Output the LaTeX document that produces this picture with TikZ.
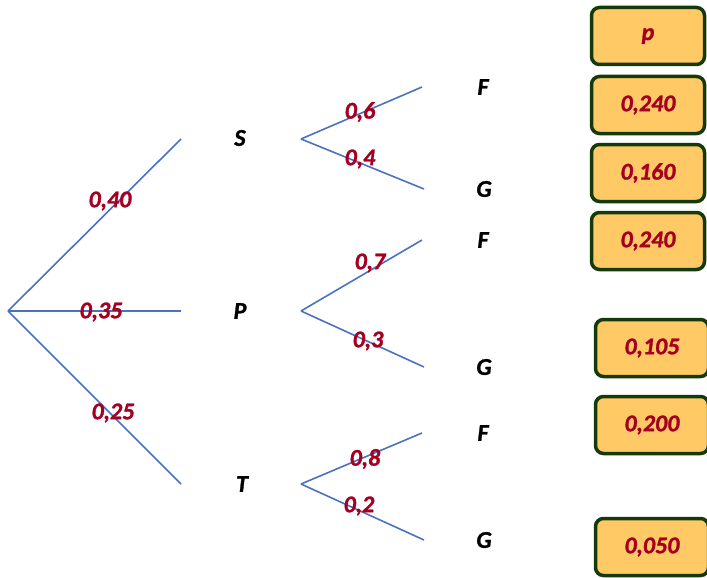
\documentclass[tikz,border=0pt]{standalone}
\usepackage{fontspec}
\setmainfont{Carlito}[BoldItalicFeatures={FakeBold=1.2}]
\usepackage{tikz}
\definecolor{branchblue}{HTML}{4A72C0}
\definecolor{probred}{HTML}{A50021}
\definecolor{boxgreen}{HTML}{143A0A}
\definecolor{boxfill}{HTML}{FFC966}
\tikzset{branch/.style={branchblue, line width=1.6pt},
%probability written on a branch
prob/.style={text=probred, font=\fontsize{24}{28}\selectfont\bfseries\itshape, inner sep=0pt},
event/.style={text=black, font=\fontsize{24}{28}\selectfont\bfseries\itshape, inner sep=0pt},
result/.style={prob, draw=boxgreen, fill=boxfill, line width=3.5pt, rounded corners=8pt,
  minimum width=113pt, minimum height=57pt}}

\begin{document}
\begin{tikzpicture}[x=1pt,y=-1pt]
\useasboundingbox (0,0) rectangle (707,578);
% first level
\coordinate (root) at (8,311);
\coordinate (endS) at (181,139);
\coordinate (endP) at (181,311);
\coordinate (endT) at (181,484);
\draw[branch] (root) -- (endS);
\draw[branch] (root) -- (endP);
\draw[branch] (root) -- (endT);
\node[event] (S) at (240,138) {S};
\node[event] (P) at (240,311) {P};
\node[event] (T) at (242,484) {T};
\node[prob] (pS) at (110,201) {0,40};
\node[prob] (pP) at (101,312) {0,35};
\node[prob] (pT) at (113,413) {0,25};

% second level
\foreach \name/\y/\yf/\yg in {S/139/87/189, P/311/240/367, T/484/433/540}{
  \coordinate (start\name) at (301,\y);
  \coordinate (end\name F) at (422,\yf);
  \coordinate (end\name G) at (424,\yg);
  \draw[branch] (start\name) -- (end\name F);
  \draw[branch] (start\name) -- (end\name G);
  \node[event] (F\name) at (483,\yf) {F};
  \node[event] (G\name) at (484,\yg) {G};
}
\node[prob] (pSF) at (360,112) {0,6};
\node[prob] (pSG) at (360,159) {0,4};
\node[prob] (pPF) at (370,263) {0,7};
\node[prob] (pPG) at (368,341) {0,3};
\node[prob] (pTF) at (365,459) {0,8};
\node[prob] (pTG) at (359,506) {0,2};

%results
\node[result] (head) at (648,36) {p};
\node[result] (rSF) at (648,105) {0,240};
\node[result] (rSG) at (648,173) {0,160};
\node[result] (rPF) at (648,241) {0,240};
\node[result] (rPG) at (652,348) {0,105};
\node[result] (rTF) at (652,425) {0,200};
\node[result] (rTG) at (652,547) {0,050};

\end{tikzpicture}
\end{document}
